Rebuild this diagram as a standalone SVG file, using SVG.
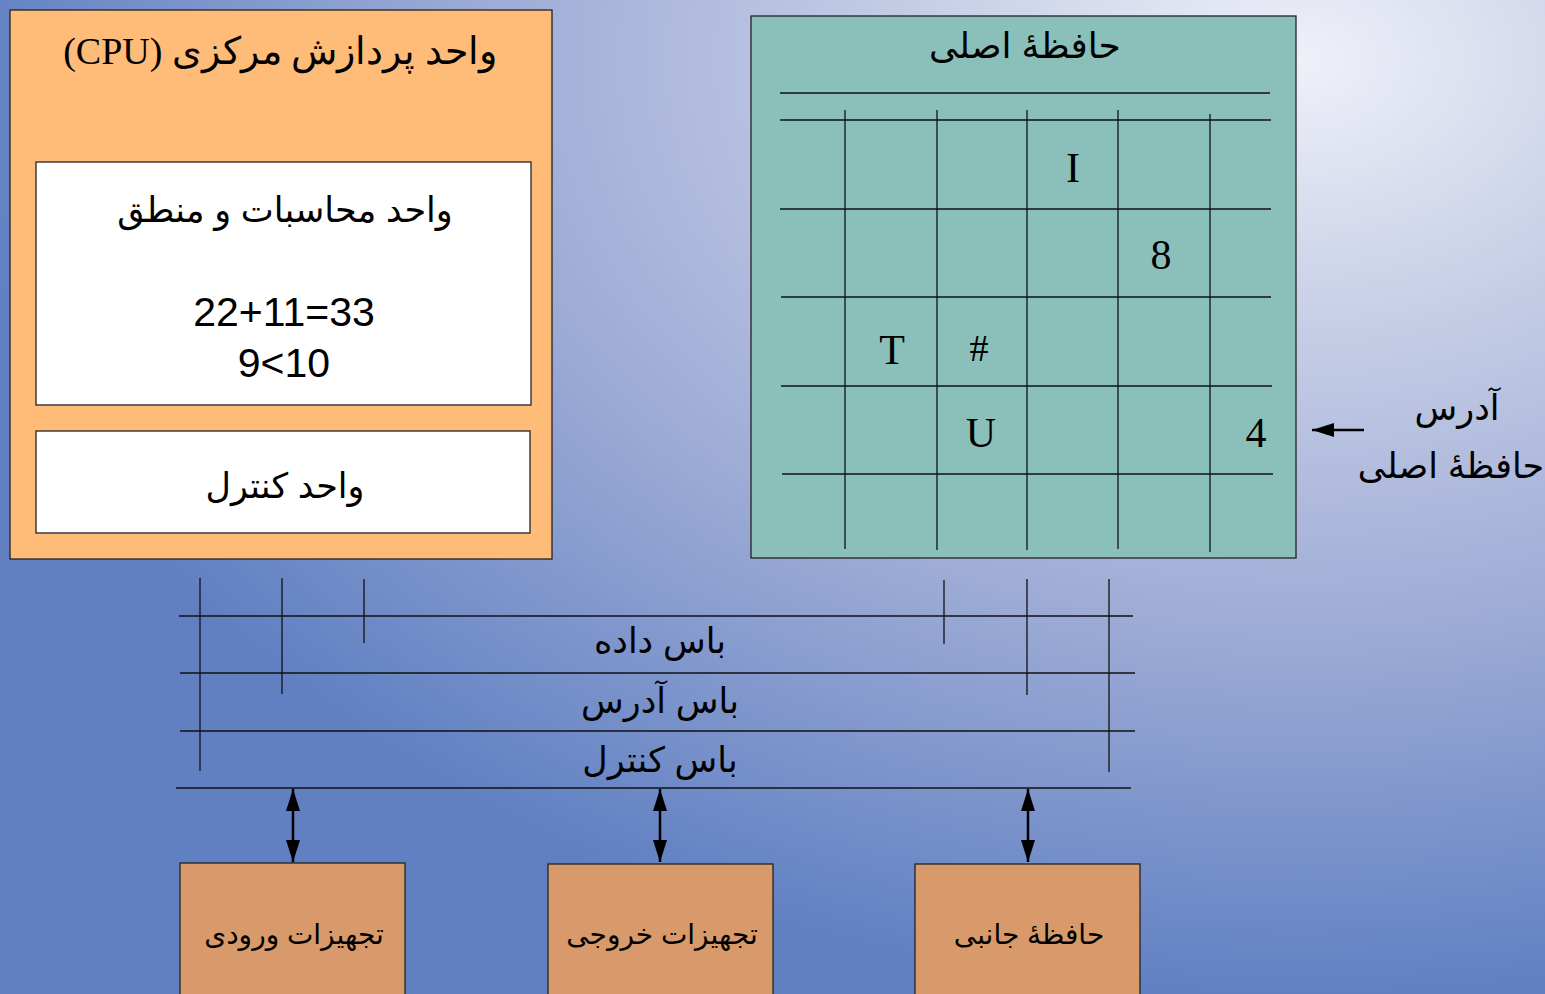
<svg xmlns="http://www.w3.org/2000/svg" width="1545" height="994" viewBox="0 0 1545 994">
<defs>
<radialGradient id="bg" gradientUnits="userSpaceOnUse" cx="0" cy="0" r="1" gradientTransform="translate(1300,60) scale(1350,940)">
<stop offset="0" stop-color="#eff1f9"/>
<stop offset="0.3" stop-color="#c4cce5"/>
<stop offset="0.6" stop-color="#9eacd6"/>
<stop offset="1" stop-color="#6080c2"/>
</radialGradient>
<marker id="ah" viewBox="0 0 22 14" refX="22" refY="7" markerWidth="22" markerHeight="14" markerUnits="userSpaceOnUse" orient="auto-start-reverse">
<path d="M0,0 L22,7 L0,14 Z" fill="#000"/>
</marker>
</defs>
<style>
.box{stroke:#222;stroke-width:1.3}
.ln{stroke:#111;stroke-width:1.3;fill:none}
.ar{font-family:"Liberation Sans","DejaVu Sans",sans-serif;fill:#000;text-anchor:middle}
.sr{font-family:"Liberation Serif","DejaVu Serif",serif;fill:#000;text-anchor:middle}
.con{stroke:#000;stroke-width:2.5;fill:none}
</style>
<rect x="0" y="0" width="1545" height="994" fill="url(#bg)"/>

<g id="cpu">
<rect class="box" x="10" y="10" width="542" height="549" fill="#ffbb78"/>
<text class="sr" x="280" y="64" font-size="38" direction="rtl" unicode-bidi="embed" text-anchor="middle">واحد پردازش مرکزی (CPU)</text>
</g>
<g id="alu">
<rect class="box" x="36" y="162" width="495" height="243" fill="#fff"/>
<text class="ar" x="285" y="222" font-size="35" direction="rtl">واحد محاسبات و منطق</text>
<text class="ar" x="284" y="326" font-size="41">22+11=33</text>
<text class="ar" x="284" y="377" font-size="41">9&lt;10</text>
</g>
<g id="control">
<rect class="box" x="36" y="431" width="494" height="102" fill="#fff"/>
<text class="ar" x="285" y="498" font-size="35" direction="rtl">واحد کنترل</text>
</g>

<g id="memory">
<rect class="box" x="751" y="16" width="545" height="542" fill="#8bbfba"/>
<text class="ar" x="1025" y="58" font-size="36" direction="rtl">حافظهٔ اصلی</text>
<g class="ln">
<line x1="780" y1="93" x2="1270" y2="93"/>
<line x1="780" y1="120" x2="1271" y2="120"/>
<line x1="780" y1="209" x2="1271" y2="209"/>
<line x1="781" y1="297" x2="1271" y2="297"/>
<line x1="781" y1="386" x2="1272" y2="386"/>
<line x1="782" y1="474" x2="1273" y2="474"/>
<line x1="845" y1="110" x2="845" y2="549"/>
<line x1="937" y1="110" x2="937" y2="550"/>
<line x1="1027" y1="110" x2="1027" y2="550"/>
<line x1="1118" y1="110" x2="1118" y2="549"/>
<line x1="1210" y1="114" x2="1210" y2="552"/>
</g>
<text class="sr" x="1073" y="182" font-size="42">I</text>
<text class="sr" x="1161" y="269" font-size="42">8</text>
<text class="sr" x="892" y="364" font-size="42">T</text>
<text class="sr" x="979" y="361" font-size="38">#</text>
<text class="sr" x="981" y="447" font-size="42">U</text>
<text class="sr" x="1256" y="447" font-size="42">4</text>
</g>

<g id="address-label">
<text class="ar" x="1457" y="420" font-size="35" direction="rtl">آدرس</text>
<text class="ar" x="1451" y="478" font-size="35" direction="rtl">حافظهٔ اصلی</text>
</g>

<g id="bus">
<g class="ln">
<line x1="179" y1="616" x2="1133" y2="616"/>
<line x1="180" y1="673" x2="1135" y2="673"/>
<line x1="180" y1="731" x2="1135" y2="731"/>
<line x1="176" y1="788" x2="1131" y2="788"/>
<line x1="200" y1="578" x2="200" y2="771"/>
<line x1="282" y1="578" x2="282" y2="694"/>
<line x1="364" y1="579" x2="364" y2="643"/>
<line x1="944" y1="580" x2="944" y2="644"/>
<line x1="1027" y1="579" x2="1027" y2="695"/>
<line x1="1109" y1="579" x2="1109" y2="772"/>
</g>
<text class="ar" x="660" y="653" font-size="35" direction="rtl">باس داده</text>
<text class="ar" x="660" y="713" font-size="35" direction="rtl">باس آدرس</text>
<text class="ar" x="660" y="772" font-size="35" direction="rtl">باس کنترل</text>
</g>

<g id="input">
<rect class="box" x="180" y="863" width="225" height="140" fill="#d89a6a"/>
<text class="ar" x="294" y="944" font-size="28" direction="rtl">تجهیزات ورودی</text>
</g>
<g id="output">
<rect class="box" x="548" y="864" width="225" height="140" fill="#d89a6a"/>
<text class="ar" x="662" y="944" font-size="28" direction="rtl">تجهیزات خروجی</text>
</g>
<g id="secondary">
<rect class="box" x="915" y="864" width="225" height="140" fill="#d89a6a"/>
<text class="ar" x="1029" y="944" font-size="28" direction="rtl">حافظهٔ جانبی</text>
</g>

<g id="connectors">
<line class="con" x1="1364" y1="430" x2="1312" y2="430" marker-end="url(#ah)"/>
<line class="con" x1="293" y1="789" x2="293" y2="862" marker-start="url(#ah)" marker-end="url(#ah)"/>
<line class="con" x1="660" y1="789" x2="660" y2="862" marker-start="url(#ah)" marker-end="url(#ah)"/>
<line class="con" x1="1028" y1="789" x2="1028" y2="862" marker-start="url(#ah)" marker-end="url(#ah)"/>
</g>
</svg>
